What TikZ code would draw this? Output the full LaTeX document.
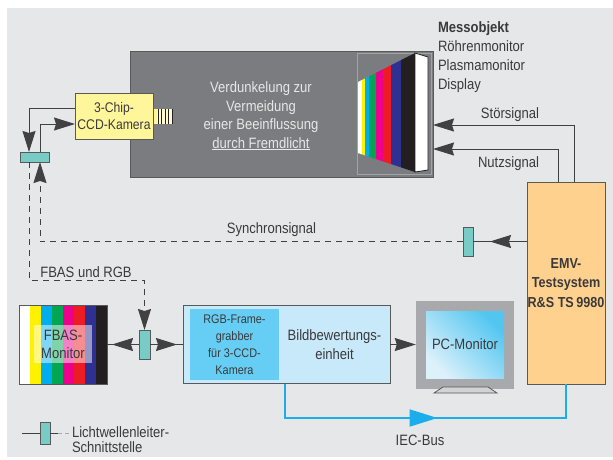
\documentclass[tikz,border=0pt]{standalone}
\usepackage{fontspec}
\setmainfont{Liberation Sans}[FakeStretch=0.87]
\usetikzlibrary{arrows.meta,decorations.markings}

\definecolor{paper}{HTML}{E6E7E8}
\definecolor{hood}{HTML}{7B7C7F}
\definecolor{boxline}{HTML}{58595B}
\definecolor{wire}{HTML}{414042}
\definecolor{inktext}{HTML}{3A3A3C}
\definecolor{camyellow}{HTML}{FFF59B}
\definecolor{lwlteal}{HTML}{79CBC6}
\definecolor{emvorange}{HTML}{FFD18E}
\definecolor{bildblue}{HTML}{C8E9F9}
\definecolor{grabblue}{HTML}{66CEF5}
\definecolor{pcgray}{HTML}{A7A9AC}
\definecolor{pcfoot}{HTML}{D1D3D4}
\definecolor{pclight}{HTML}{DDF1FB}
\definecolor{pcdark}{HTML}{52C6F1}
\definecolor{busblue}{HTML}{1CAEEA}
\definecolor{tvyellow}{HTML}{FFF200}
\definecolor{tvcyan}{HTML}{00AEEF}
\definecolor{tvgreen}{HTML}{00A651}
\definecolor{tvmagenta}{HTML}{EC008C}
\definecolor{tvred}{HTML}{ED1C24}
\definecolor{tvblue}{HTML}{2E3192}
\definecolor{tvblack}{HTML}{231F20}

\tikzset{
  sigtip/.tip={Stealth[length=21pt,width=13pt,inset=2pt]},
  bustip/.tip={Triangle[length=28pt,width=17pt]},
  txt/.style={text=inktext, inner sep=0pt, outer sep=0pt, align=center, font=\fontsize{15}{19}\selectfont},
  box/.style={draw=boxline, line width=1pt, inner sep=0pt, outer sep=0pt},
  lwl/.style={box, fill=lwlteal},
  sig/.style={draw=wire, line width=1pt},
  sigto/.style={sig, -{sigtip}},
  sigdash/.style={sigto, dash pattern=on 6pt off 5pt},
  arrowat/.style={postaction=decorate, decoration={markings, mark=at position #1 with {\arrow{sigtip}}}},
  bus/.style={draw=busblue, line width=2pt},
  busarrow/.style={postaction=decorate, decoration={markings, mark=at position #1 with {\arrow{bustip}}}},
}

\begin{document}
\begin{tikzpicture}[x=1pt,y=-1pt]
\useasboundingbox (0,0) rectangle (613,459);
\fill[paper] (7,8) rectangle (613,457);

% darkened hood with the screen under test
\node[box, fill=hood, minimum width=303pt, minimum height=126pt] (hood) at (281.5,114) {};
\draw[hood!70!white, line width=0.6pt] (357,53) rectangle (431,174);
\foreach \xa/\xb/\col in {358/362/white,362/365/tvyellow,365/369/tvcyan,369/376/tvgreen,
    376/383/tvmagenta,383/391/tvred,391/401/tvblue,401/415/tvblack}
  \fill[\col] (\xa,{82-0.5088*(\xa-358)}) -- (\xb,{82-0.5088*(\xb-358)})
    -- (\xb,{153+0.3333*(\xb-358)}) -- (\xa,{153+0.3333*(\xa-358)}) -- cycle;
\filldraw[fill=white, draw=tvblack, line width=0.8pt] (415,53) -- (428,57) -- (428,170) -- (415,172) -- cycle;
\node[txt, text=paper, font=\fontsize{15}{18.5}\selectfont] (dimtext) at (261,116)
  {Verdunkelung zur\\Vermeidung\\einer Beeinflussung\\\underline{durch Fremdlicht}};

% camera with its lens
\fill[camyellow!45!white] (153,109) rectangle (173,124);
\fill[camyellow] (153,109) rectangle (157,124);
\foreach \x in {158,161.5,165,168.5,172}
  \draw[tvblack, line width=1pt] (\x,109) -- (\x,124);
\node[box, fill=camyellow, minimum width=78pt, minimum height=46pt, txt,
  font=\fontsize{14}{17}\selectfont] (cam) at (114,116) {3-Chip-\\CCD-Kamera};

\node[txt, align=left, anchor=west] (dut) at (438,57.6)
  {\textbf{Messobjekt}\\Röhrenmonitor\\Plasmamonitor\\Display};

% test system and optical links
\node[box, fill=emvorange, minimum width=78pt, minimum height=202pt, txt,
  font=\bfseries\fontsize{14.5}{19.5}\selectfont] (emv) at (566,283) {EMV-\\Testsystem\\R\&S TS\,9980};
\node[lwl, minimum width=29pt, minimum height=10pt] (fibcam) at (34.5,157) {};
\node[lwl, minimum width=10pt, minimum height=29pt] (fibsync) at (468,241.5) {};
\node[lwl, minimum width=11pt, minimum height=29pt] (fibmon) at (144.5,344.5) {};

% FBAS monitor with colour bars
\foreach \col [count=\i from 0] in {white,tvyellow,tvcyan,tvgreen,tvmagenta,tvred,tvblue,tvblack}
  \fill[\col] ({19+11*\i},305) rectangle ++(11,79);
\node[box, minimum width=88pt, minimum height=79pt] (fbas) at (63,344.5) {};
\node[txt, fill=white, fill opacity=0.5, text opacity=1, minimum width=58pt, minimum height=38pt,
  font=\fontsize{15}{18}\selectfont] (fbaslbl) at (63,344) {FBAS-\\Monitor};

% evaluation unit
\node[box, fill=bildblue, minimum width=207pt, minimum height=78pt] (bild) at (286.5,344.5) {};
\node[txt, fill=grabblue, minimum width=89pt, minimum height=71pt,
  font=\fontsize{12.5}{17}\selectfont] (grab) at (234.5,344.5) {RGB-Frame-\\grabber\\für 3-CCD-\\Kamera};
\node[txt] (bildtxt) at (334.5,345) {Bildbewertungs-\\einheit};

% PC monitor
\node[fill=pcgray, minimum width=98pt, minimum height=88pt, inner sep=0pt] (pcframe) at (465,344.5) {};
\filldraw[fill=pcfoot, draw=boxline, line width=0.8pt] (443,387) -- (488,387) -- (497,393) -- (434,393) -- cycle;
\node[txt, top color=pcdark, bottom color=pclight, shading angle=-45,
  minimum width=78pt, minimum height=67pt] (pc) at (465,344.5) {PC-Monitor};

% signal paths
\draw[sigto] ([xshift=8pt]emv.north) |- ([yshift=-11pt]hood.east);
\draw[sigto] ([xshift=-8pt]emv.north) |- ([yshift=-35pt]hood.east);
\node[txt] (stoer) at (510,115) {Störsignal};
\node[txt] (nutz) at (508.5,164) {Nutzsignal};

\draw[sigto] ([yshift=8pt]cam.west) -| ([xshift=-5.5pt]fibcam.north);
\draw[sigto] ([xshift=5.5pt]fibcam.north) |- ([yshift=-8pt]cam.west);

\draw[sig, arrowat=-17pt] (emv.west |- fibsync.east) -- (fibsync.east);
\draw[sigdash] (fibsync.west) -| ([xshift=5.5pt]fibcam.south);
\node[txt] (sync) at (271.5,230) {Synchronsignal};

\coordinate (fbasknee) at (144.5,280);
\draw[sigdash] ([xshift=-5.5pt]fibcam.south) |- (fbasknee) -- (fibmon.north);
\node[txt] (fbasrgb) at (86,272) {FBAS und RGB};

\draw[sig, arrowat=-5pt] (fibmon.west) -- (fbas.east);
\draw[sig, arrowat=-6pt] (fibmon.east) -- (bild.west);
\draw[sigto] (bild.east) -- (pcframe.west);

% IEC bus
\coordinate (busrow) at (0,418);
\draw[bus, busarrow=187pt] ([xshift=-1.5pt]bild.south) |- (busrow -| emv.south) -- (emv.south);
\node[txt] (iec) at (420,440) {IEC-Bus};

% legend
\node[lwl, minimum width=10pt, minimum height=22pt] (fiblegend) at (45,433) {};
\coordinate (legin) at (22,433);
\coordinate (legout) at (58,433);
\coordinate (legend) at (70,433);
\draw[sig] (legin) -- (fiblegend.west);
\draw[sig] (fiblegend.east) -- (legout);
\draw[sig, draw=pcgray, dash pattern=on 4pt off 3pt] (legout) -- (legend);
\node[txt, align=left, anchor=west, font=\fontsize{15}{15}\selectfont] (leglbl) at (72,440)
  {Lichtwellenleiter-\\Schnittstelle};
\end{tikzpicture}
\end{document}
